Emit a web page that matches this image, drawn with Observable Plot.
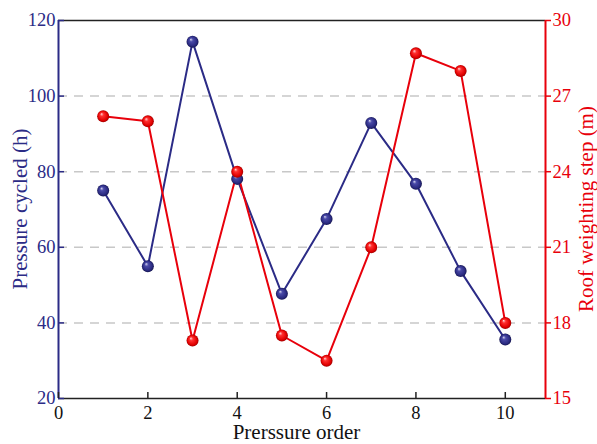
<!DOCTYPE html>
<html><head><meta charset="utf-8">
<script src="https://cdn.jsdelivr.net/npm/d3@7"></script>
<script src="https://cdn.jsdelivr.net/npm/@observablehq/plot@0.6"></script>
</head>
<body style="margin:0;background:#fff;font-family:'Liberation Serif',serif">
<div id="c"></div>
<script>
// ---- data ----
const order = [1, 2, 3, 4, 5, 6, 7, 8, 9, 10];
const pressureCycled = [75, 55, 114.4, 78.1, 47.7, 67.5, 92.9, 76.8, 53.7, 35.6];
const roofStep = [26.2, 26.0, 17.3, 24.0, 17.5, 16.5, 21.0, 28.7, 28.0, 18.0];
const xTicks = [0, 2, 4, 6, 8, 10];
const leftTicks = [20, 40, 60, 80, 100, 120];
const rightTicks = [15, 18, 21, 24, 27, 30];
const gridTicks = [40, 60, 80, 100];

// ---- layout / style ----
const W = 597, H = 444;
const mL = 58, mR = 52, mT = 20, mB = 46;
const xDom = [0, 10.9];
const yDom = [20, 120];
const rDom = [15, 30];
const navy = "#2b2b86";
const red = "#e8000b";
const fnt = "Liberation Serif";

const toLeft = v => yDom[0] + (v - rDom[0]) * (yDom[1] - yDom[0]) / (rDom[1] - rDom[0]);
const blue = order.map((x, i) => ({x, y: pressureCycled[i]}));
const reds = order.map((x, i) => ({x, y: toLeft(roofStep[i])}));
const rightTickData = rightTicks.map(v => ({v, y: toLeft(v)}));

const pxPerX = (W - mL - mR) / (xDom[1] - xDom[0]);
const pxPerY = (H - mT - mB) / (yDom[1] - yDom[0]);
const tX = 6 / pxPerX, tY = 6 / pxPerY;

const p = Plot.plot({
  width: W, height: H,
  marginLeft: mL, marginRight: mR, marginTop: mT, marginBottom: mB,
  style: {fontFamily: fnt, background: "#fff"},
  x: {domain: xDom, axis: null},
  y: {domain: yDom, axis: null},
  marks: [
    Plot.ruleY(gridTicks, {x1: xDom[0], x2: xDom[1], stroke: "#c8c8c8", strokeWidth: 1.5, strokeDasharray: "9,7"}),
    Plot.ruleY([yDom[1]], {x1: xDom[0], x2: xDom[1], stroke: "#222", strokeWidth: 1.5}),
    Plot.ruleY([yDom[0]], {x1: xDom[0], x2: xDom[1], stroke: "#222", strokeWidth: 1.5}),
    Plot.ruleX([xDom[0]], {y1: yDom[0], y2: yDom[1], stroke: navy, strokeWidth: 2}),
    Plot.ruleX([xDom[1]], {y1: yDom[0], y2: yDom[1], stroke: red, strokeWidth: 2}),
    Plot.ruleY(leftTicks, {x1: xDom[0], x2: xDom[0] + tX, stroke: navy, strokeWidth: 1.5}),
    Plot.ruleY(rightTickData, {y: "y", x1: xDom[1], x2: xDom[1] + tX, stroke: red, strokeWidth: 1.5}),
    Plot.ruleX(xTicks, {y1: yDom[0], y2: yDom[0] + tY, stroke: "#222", strokeWidth: 1.5}),
    Plot.text(leftTicks, {x: xDom[0], y: d => d, text: d => String(d), dx: -3, textAnchor: "end", fill: navy, fontSize: 18.5, fontFamily: fnt}),
    Plot.text(rightTickData, {x: xDom[1], y: "y", text: d => String(d.v), dx: 7, textAnchor: "start", fill: red, fontSize: 18.5, fontFamily: fnt}),
    Plot.text(xTicks, {x: d => d, y: yDom[0], text: d => String(d), dy: 15, fill: "#111", fontSize: 18.5, fontFamily: fnt}),
    Plot.line(blue, {x: "x", y: "y", stroke: navy, strokeWidth: 2}),
    Plot.line(reds, {x: "x", y: "y", stroke: red, strokeWidth: 2}),
    Plot.dot(blue, {x: "x", y: "y", r: 6, fill: "url(#gBlue)", stroke: "none"}),
    Plot.dot(reds, {x: "x", y: "y", r: 6, fill: "url(#gRed)", stroke: "none"})
  ]
});
p.setAttribute("font-family", "Liberation Serif, serif");

const svgNS = "http://www.w3.org/2000/svg";
const st = document.createElementNS(svgNS, "style");
st.textContent = "text, tspan { font-family: 'Liberation Serif', serif; }";
p.insertBefore(st, p.firstChild);

function addText(txt, x, y, rot, color) {
  const t = document.createElementNS(svgNS, "text");
  t.setAttribute("x", 0); t.setAttribute("y", 0);
  t.setAttribute("transform", `translate(${x},${y}) rotate(${rot})`);
  t.setAttribute("text-anchor", "middle");
  t.setAttribute("dy", "0.35em");
  t.setAttribute("font-family", fnt);
  t.setAttribute("font-size", "21");
  t.setAttribute("fill", color);
  t.textContent = txt;
  p.appendChild(t);
}
const cy = mT + (H - mT - mB) / 2;
addText("Pressure cycled (h)", 20, cy, -90, navy);
addText("Roof weighting step (m)", 586, cy, -90, red);
addText("Prerssure order", mL + (W - mL - mR) / 2 - 5, 432, 0, "#111");

const defs = document.createElementNS(svgNS, "defs");
defs.innerHTML = `
  <radialGradient id="gBlue" cx="0.5" cy="0.5" r="0.5" fx="0.35" fy="0.3">
    <stop offset="0" stop-color="#d8d8f0"/>
    <stop offset="0.3" stop-color="#4a4aa8"/>
    <stop offset="0.8" stop-color="#2a2a80"/>
    <stop offset="1" stop-color="#151550"/>
  </radialGradient>
  <radialGradient id="gRed" cx="0.5" cy="0.5" r="0.5" fx="0.35" fy="0.3">
    <stop offset="0" stop-color="#ffd8d8"/>
    <stop offset="0.3" stop-color="#ff3030"/>
    <stop offset="0.8" stop-color="#e00000"/>
    <stop offset="1" stop-color="#a00000"/>
  </radialGradient>`;
p.insertBefore(defs, p.firstChild);

document.getElementById("c").appendChild(p);
</script>
</body></html>
